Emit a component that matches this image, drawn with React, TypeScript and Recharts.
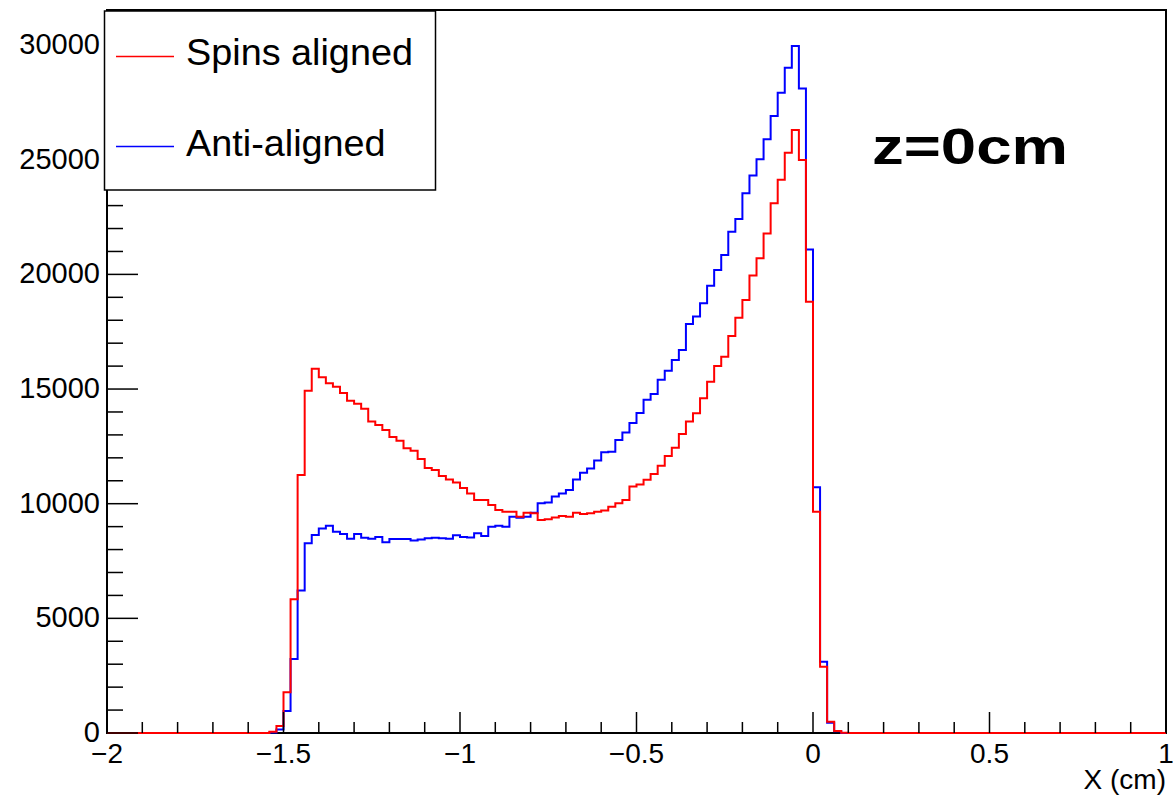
import { LineChart, Line, XAxis, YAxis, ReferenceArea } from "recharts";

const W = 1173;
const H = 802;
const FONT = '"Liberation Sans", Arial, Helvetica, sans-serif';

// 150 bins of 0.02 cm from -2 to 1; only bins 23..104 are filled
const X_LOW = -2;
const BIN_WIDTH = 0.02;
const N_BINS = 150;
const FIRST_FILLED = 23;

// entries per bin, starting at bin 23 (x = -1.54)
const SPINS_ALIGNED = [
  50, 300, 1780, 5830, 11250, 14930, 15880, 15510, 15250, 15100,
  14830, 14490, 14360, 14140, 13580, 13430, 13210, 12910, 12750, 12420,
  12310, 11950, 11560, 11470, 11210, 11060, 10920, 10680, 10450, 10160,
  10160, 9940, 9730, 9650, 9650, 9430, 9610, 9580, 9290, 9320,
  9400, 9460, 9430, 9610, 9550, 9580, 9650, 9700, 9870, 10020,
  10160, 10750, 10840, 11040, 11300, 11650, 12080, 12440, 13040, 13580,
  13940, 14600, 15320, 16000, 16410, 17310, 18110, 18880, 19950, 20700,
  21780, 23100, 24130, 25310, 26300, 24990, 18810, 9650, 2890, 495,
  90, 10,
];

const ANTI_ALIGNED = [
  20, 150, 960, 3230, 6210, 8270, 8630, 8920, 9040, 8780,
  8680, 8470, 8680, 8520, 8470, 8550, 8320, 8460, 8460, 8460,
  8390, 8440, 8490, 8520, 8490, 8470, 8620, 8550, 8530, 8710,
  8590, 9000, 9040, 9000, 9430, 9390, 9430, 9610, 10020, 10050,
  10310, 10450, 10600, 11060, 11350, 11540, 11880, 12240, 12270, 12780,
  13100, 13520, 13950, 14530, 14780, 15410, 15800, 16270, 16700, 17840,
  18160, 18740, 19510, 20190, 20850, 21860, 22420, 23540, 24310, 25020,
  25890, 26910, 27920, 29010, 29960, 28110, 21090, 10720, 3110, 450,
  80, 0,
];

const X_MAJOR = [-2, -1.5, -1, -0.5, 0, 0.5, 1];
const Y_MAJOR = [0, 5000, 10000, 15000, 20000, 25000, 30000];
const Y_MAX = 31530;

const X_TICKS = Array.from({ length: 31 }, (_, i) => Number((-2 + i * 0.1).toFixed(1)));
const Y_TICKS = Array.from({ length: 32 }, (_, i) => i * 1000);

const binValue = (arr: number[], k: number) => arr[k - FIRST_FILLED] ?? 0;

// bin edges; stepAfter draws each bin flat up to the next edge
const data = Array.from({ length: N_BINS + 1 }, (_, k) => ({
  x: Number((X_LOW + k * BIN_WIDTH).toFixed(2)),
  aligned: k < N_BINS ? binValue(SPINS_ALIGNED, k) : 0,
  anti: k < N_BINS ? binValue(ANTI_ALIGNED, k) : 0,
}));

const fmt = (v: number) => String(v).replace("-", "\u2212");

function XTick(props: any) {
  const { x, y, payload } = props;
  const v = payload.value;
  const major = X_MAJOR.some((m) => Math.abs(m - v) < 1e-6);
  return (
    <g>
      <line x1={x} x2={x} y1={y} y2={y - (major ? 21 : 11)} stroke="#000" strokeWidth={1.5} />
      {major && (
        <text x={x} y={y + 30} textAnchor="middle" fontSize={28} fontFamily={FONT} fill="#000">
          {fmt(v)}
        </text>
      )}
    </g>
  );
}

function YTick(props: any) {
  const { x, y, payload } = props;
  const v = payload.value;
  const major = Y_MAJOR.includes(v);
  return (
    <g>
      <line x1={x} x2={x + (major ? 31 : 16)} y1={y} y2={y} stroke="#000" strokeWidth={1.5} />
      {major && (
        <text x={x - 7} y={y + 9} textAnchor="end" fontSize={29} fontFamily={FONT} fill="#000">
          {v}
        </text>
      )}
    </g>
  );
}

export default function App() {
  return (
    <div style={{ position: "absolute", left: 0, top: 0, width: W, height: H, background: "#fff" }}>
      <LineChart width={W} height={H} data={data} margin={{ top: 10, right: 7, left: 7, bottom: 13 }}>
        <XAxis
          dataKey="x"
          type="number"
          domain={[-2, 1]}
          ticks={X_TICKS}
          interval={0}
          height={56}
          axisLine={false}
          tickLine={false}
          tickSize={0}
          tickMargin={0}
          tick={(p: any) => <XTick {...p} />}
          label={{
            value: "X (cm)",
            position: "insideBottomRight",
            offset: 0,
            fontSize: 28,
            fontFamily: FONT,
            fill: "#000",
          }}
        />
        <YAxis
          type="number"
          domain={[0, Y_MAX]}
          ticks={Y_TICKS}
          interval={0}
          width={100}
          axisLine={false}
          tickLine={false}
          tickSize={0}
          tickMargin={0}
          tick={(p: any) => <YTick {...p} />}
        />
        <ReferenceArea x1={-2} x2={1} y1={0} y2={Y_MAX} fill="none" stroke="#000" strokeWidth={2} />
        <Line
          type="stepAfter"
          dataKey="anti"
          stroke="#0000ff"
          strokeWidth={2}
          dot={false}
          activeDot={false}
          isAnimationActive={false}
        />
        <Line
          type="stepAfter"
          dataKey="aligned"
          stroke="#ff0000"
          strokeWidth={2}
          dot={false}
          activeDot={false}
          isAnimationActive={false}
        />
      </LineChart>
      <svg
        width={W}
        height={H}
        style={{ position: "absolute", left: 0, top: 0, pointerEvents: "none" }}
        fontFamily={FONT}
      >
        <rect x={104.5} y={11} width={331} height={179} fill="#fff" stroke="#000" strokeWidth={1.5} />
        <line x1={116} x2={174} y1={56.5} y2={56.5} stroke="#ff0000" strokeWidth={1.5} />
        <text x={186} y={65} fontSize={37.8} fill="#000">
          Spins aligned
        </text>
        <line x1={116} x2={174} y1={146.5} y2={146.5} stroke="#0000ff" strokeWidth={1.5} />
        <text x={186} y={156} fontSize={37.8} fill="#000">
          Anti-aligned
        </text>
        <text
          x={872}
          y={164}
          fontSize={50}
          fontWeight="bold"
          fill="#000"
          textLength={196}
          lengthAdjust="spacingAndGlyphs"
        >
          z=0cm
        </text>
      </svg>
    </div>
  );
}
